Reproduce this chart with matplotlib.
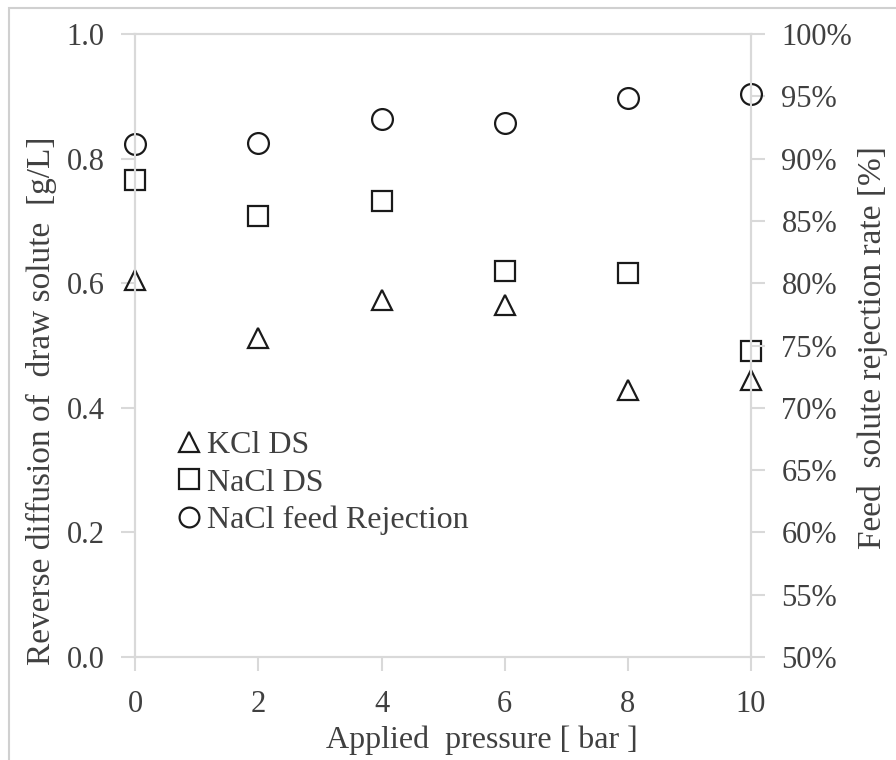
import matplotlib
matplotlib.use("Agg")
import matplotlib.pyplot as plt
from matplotlib.patches import Rectangle
from matplotlib.ticker import FuncFormatter, MultipleLocator

plt.rcParams['font.family'] = ['Liberation Serif', 'DejaVu Serif']

pressure = [0, 2, 4, 6, 8, 10]
kcl_ds = [0.605, 0.513, 0.573, 0.566, 0.429, 0.444]
nacl_ds = [0.766, 0.708, 0.732, 0.620, 0.617, 0.491]
nacl_rejection = [91.2, 91.25, 93.2, 92.85, 94.85, 95.2]

text_color = '#404040'
axis_color = '#d9d9d9'
mark_color = '#1a1a1a'

fig = plt.figure(figsize=(8.96, 7.6), dpi=100)
# outer frame: only its left and top edges fall inside the canvas
fig.patches.append(Rectangle((0.0105, -0.5), 1.5, 1.4895, transform=fig.transFigure,
                             fill=False, edgecolor='#d0d0d0', linewidth=1.5))

ax = fig.add_axes([0.151, 0.1355, 0.687, 0.8195])
ax2 = ax.twinx()

marker_kw = dict(linestyle='none', markerfacecolor='none', markeredgecolor=mark_color,
                 markeredgewidth=1.6, markersize=15)
h1, = ax.plot(pressure, kcl_ds, marker='^', label='KCl DS', **marker_kw)
h2, = ax.plot(pressure, nacl_ds, marker='s', label='NaCl DS', **marker_kw)
h3, = ax2.plot(pressure, nacl_rejection, marker='o', label='NaCl feed Rejection',
               **marker_kw)
for h in (h1, h2, h3):
    h.set_clip_on(False)

ax.set_xlim(0, 10)
ax.set_ylim(0, 1.0)
ax2.set_ylim(50, 100)
ax.xaxis.set_major_locator(MultipleLocator(2))
ax.yaxis.set_major_locator(MultipleLocator(0.2))
ax2.yaxis.set_major_locator(MultipleLocator(5))
ax.yaxis.set_major_formatter(FuncFormatter(lambda v, p: f'{v:.1f}'))
ax2.yaxis.set_major_formatter(FuncFormatter(lambda v, p: f'{v:.0f}%'))

for a in (ax, ax2):
    for s in a.spines.values():
        s.set_color(axis_color)
        s.set_linewidth(1.5)
    a.tick_params(colors=axis_color, labelcolor=text_color, labelsize=22,
                  length=10, width=1.5, direction='out', pad=12)
ax.tick_params(axis='x', pad=14)

ax.set_xlabel('Applied  pressure [ bar ]', fontsize=23, color=text_color)
ax.xaxis.label.set_verticalalignment('center')
ax.xaxis.set_label_coords(0.563, -0.133)

ax.set_ylabel('Reverse diffusion of  draw solute  [g/L]', fontsize=24, color=text_color)
ax.yaxis.label.set_verticalalignment('center')
ax.yaxis.set_label_coords(-0.1526, 0.411)

ax2.set_ylabel('Feed  solute rejection rate [%]', fontsize=24, color=text_color)
ax2.yaxis.label.set_verticalalignment('center')
ax2.yaxis.set_label_coords(1.197, 0.4976)

leg = ax2.legend(handles=[h1, h2, h3], loc='upper left', bbox_to_anchor=(0.07, 0.363),
                 frameon=False, fontsize=23, markerscale=0.95, handlelength=0.65,
                 handletextpad=0.25, labelspacing=0.25, borderaxespad=0, borderpad=0)
for t in leg.get_texts():
    t.set_color(text_color)

fig.savefig('out.png', dpi=100)
